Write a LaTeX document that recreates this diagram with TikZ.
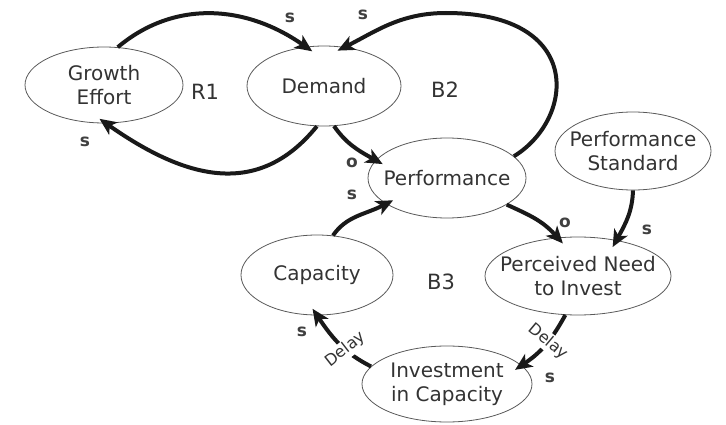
\documentclass[tikz,border=0pt]{standalone}
\usepackage{fontspec}
\setmainfont{DejaVu Sans}
\usetikzlibrary{shapes.geometric,arrows.meta}
\tikzset{
  var/.style={ellipse,draw=black!65,line width=0.8pt,text=black!80,align=center,
    inner xsep=-14pt,inner ysep=0pt,font=\fontsize{20}{24}\selectfont},
  link/.style={line width=4pt,black!90,-{Stealth[length=17pt,width=15pt,inset=4.5pt]},shorten >=-8pt},
  pol/.style={text=black!75,font=\bfseries\fontsize{17}{17}\selectfont},
  loopname/.style={text=black!80,font=\fontsize{21}{21}\selectfont},
  delay/.style={fill=white,inner sep=1.5pt,text=black!80,font=\fontsize{16}{16}\selectfont}
}
\begin{document}
\begin{tikzpicture}[x=1pt,y=1pt]
\useasboundingbox (0,0) rectangle (726,424);
% variables
\node[var,minimum width=158pt,minimum height=76pt] (ge) at (104,339) {Growth\\Effort};
\node[var,minimum width=154pt,minimum height=80pt] (dem) at (324,338) {Demand};
\node[var,minimum width=158pt,minimum height=80pt] (perf) at (447,246) {Performance};
\node[var,minimum width=156pt,minimum height=78pt] (std) at (633,273) {Performance\\Standard};
\node[var,minimum width=152pt,minimum height=80pt] (cap) at (317,149) {Capacity};
\node[var,minimum width=186pt,minimum height=78pt] (need) at (578,148) {Perceived Need\\to Invest};
\node[var,minimum width=170pt,minimum height=76pt] (inv) at (447,40) {Investment\\in Capacity};
\coordinate (b2top) at (446,411);
% loop names
\node[loopname] (r1) at (205,332) {R1};
\node[loopname] (b2) at (445,334) {B2};
\node[loopname] (b3) at (441,142) {B3};
% links
\draw[link] (ge.70) to[out=40,in=145] (dem.115);
\draw[link] (dem.-100) to[out=-129,in=-35,looseness=1.15] (ge.-87);
\draw[link] (dem.-76) to[out=-55,in=151] (perf.166);
\draw[link] (perf.18) .. controls (575,305) and (585,411) .. (b2top)
  .. controls (400,411) and (375,392) .. (dem.62);
\draw[link] (perf.-24) to[out=-25,in=132] (need.118);
\draw[link] (std.-90) to[out=-92,in=61] (need.43);
\draw[link] (cap.68) to[out=55,in=207] (perf.203);
\draw[link] (need.-108) to[out=-119,in=34] node[delay,pos=.47,rotate=-40] {Delay} (inv.14);
\draw[link] (inv.167) to[out=153,in=-56] node[delay,pos=.4,rotate=38] {Delay} (cap.-90);
% polarities
\node[pol] (s1) at (290,406) {s};
\node[pol] (s2) at (363,409) {s};
\node[pol] (s3) at (85,282) {s};
\node[pol] (o1) at (352,261) {o};
\node[pol] (s4) at (352,229) {s};
\node[pol] (o2) at (565,201) {o};
\node[pol] (s5) at (647,194) {s};
\node[pol] (s6) at (302,92) {s};
\node[pol] (s7) at (550,46) {s};
\end{tikzpicture}
\end{document}
